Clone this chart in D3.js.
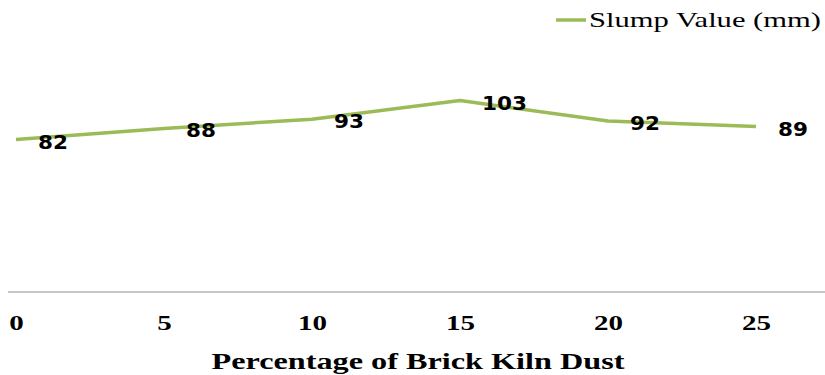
<!DOCTYPE html>
<html>
<head>
<meta charset="utf-8">
<script src="https://cdn.jsdelivr.net/npm/d3@7"></script>
<style>
  body { margin: 0; background: #fff; }
  svg { display: block; }
</style>
</head>
<body>
<div id="chart"></div>
<script>
// chart data
let dustPercent = [0, 5, 10, 15, 20, 25];
let slumpValues = [82, 88, 93, 103, 92, 89];
let seriesName = "Slump Value (mm)";
let xTitle = "Percentage of Brick Kiln Dust";

let svgWidth = 825;
let svgHeight = 375;

let svg = d3.select("#chart")
    .append("svg")
    .attr("width", svgWidth)
    .attr("height", svgHeight);

// x positions of categories
let xScale = d3.scalePoint()
    .domain(dustPercent)
    .range([16, 756]);

let yScale = d3.scaleLinear()
    .domain([0, 120])
    .range([292, 69]);

// x axis line (no tick marks)
let xAxis = d3.axisBottom(xScale).tickSize(0).tickPadding(0);
let axisG = svg.append("g")
    .attr("transform", "translate(0,292)")
    .call(xAxis);

axisG.select(".domain").remove();
axisG.append("line")
    .attr("x1", 8)
    .attr("x2", 825)
    .attr("stroke", "#b3b3b3")
    .attr("stroke-width", 1.5);

axisG.selectAll(".tick text")
    .attr("y", 38)
    .attr("dy", 0)
    .attr("fill", "#000")
    .attr("font-family", "'Liberation Serif', 'Times New Roman', serif")
    .attr("font-weight", "bold")
    .attr("font-size", 21)
    .attr("textLength", d => String(d).length * 14.5)
    .attr("lengthAdjust", "spacingAndGlyphs");

// the line
let line = d3.line()
    .x((d, i) => xScale(dustPercent[i]))
    .y(d => yScale(d));

svg.append("path")
    .datum(slumpValues)
    .attr("d", line)
    .attr("fill", "none")
    .attr("stroke", "#9bbb59")
    .attr("stroke-width", 3.5)
    .attr("stroke-linejoin", "round");

// data labels
svg.selectAll(".dlabel")
    .data(slumpValues)
    .enter()
    .append("text")
    .attr("class", "dlabel")
    .attr("x", (d, i) => xScale(dustPercent[i]) + 22)
    .attr("y", d => yScale(d) + 9)
    .attr("font-family", "'DejaVu Sans', Verdana, sans-serif")
    .attr("font-weight", "bold")
    .attr("font-size", 20)
    .attr("textLength", d => String(d).length * 15)
    .attr("lengthAdjust", "spacingAndGlyphs")
    .attr("fill", "#000")
    .text(d => d);

// axis title
svg.append("text")
    .attr("x", 418)
    .attr("y", 369)
    .attr("text-anchor", "middle")
    .attr("font-family", "'Liberation Serif', 'Times New Roman', serif")
    .attr("font-weight", "bold")
    .attr("font-size", 24)
    .attr("textLength", 413)
    .attr("lengthAdjust", "spacingAndGlyphs")
    .text(xTitle);

// legend
let legend = svg.append("g");
legend.append("line")
    .attr("x1", 556)
    .attr("x2", 586)
    .attr("y1", 20)
    .attr("y2", 20)
    .attr("stroke", "#9bbb59")
    .attr("stroke-width", 3.5);
legend.append("text")
    .attr("x", 589)
    .attr("y", 27)
    .attr("font-family", "'Liberation Serif', 'Times New Roman', serif")
    .attr("font-size", 21)
    .attr("textLength", 232)
    .attr("lengthAdjust", "spacingAndGlyphs")
    .attr("fill", "#000")
    .text(seriesName);
</script>
</body>
</html>
